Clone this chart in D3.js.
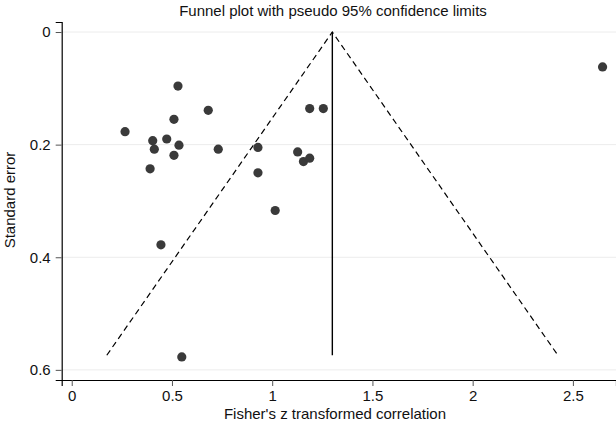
<!DOCTYPE html>
<html>
<head>
<meta charset="utf-8">
<script src="https://cdn.jsdelivr.net/npm/d3@7"></script>
<style>
  html, body { margin: 0; padding: 0; background: #fff; }
  svg { display: block; font-family: "Liberation Sans", Arial, Helvetica, sans-serif; }
</style>
</head>
<body>
<svg id="chart" width="616" height="430"></svg>
<script>
// Data: Fisher's z transformed correlation (effect) and standard error
const effects = [0.530, 0.681, 0.510, 0.266, 0.404, 0.474, 0.535, 0.412, 0.510, 0.391, 0.731,
                 0.929, 0.929, 1.187, 1.255, 1.127, 1.156, 1.187, 0.445, 1.015, 0.549, 2.648];
const stdErrors = [0.096, 0.139, 0.155, 0.177, 0.193, 0.190, 0.201, 0.208, 0.219, 0.243, 0.208,
                   0.205, 0.250, 0.136, 0.136, 0.213, 0.230, 0.224, 0.378, 0.317, 0.577, 0.062];
const pooledEffect = 1.30;
const maxSE = 0.574;
const xTicks = [0, 0.5, 1, 1.5, 2, 2.5];
const yTicks = [0, 0.2, 0.4, 0.6];
const title = "Funnel plot with pseudo 95% confidence limits";
const xTitle = "Fisher's z transformed correlation";
const yTitle = "Standard error";

const svg = d3.select("#chart");
const x = d3.scaleLinear().domain([-0.05, 2.715]).range([61.7, 616]);
const y = d3.scaleLinear().domain([-0.0178, 0.618]).range([22, 380]);

// gridlines
svg.append("g").selectAll("line").data(yTicks).join("line")
  .attr("x1", x(-0.05)).attr("x2", 616)
  .attr("y1", d => y(d)).attr("y2", d => y(d))
  .attr("stroke", "#ececec").attr("stroke-width", 1);

// axes
const yAxis = svg.append("g").attr("transform", `translate(${x(-0.05)},0)`)
  .call(d3.axisLeft(y).tickValues(yTicks).tickFormat(d => d === 0 ? "0" : d3.format(".1f")(d)).tickSizeOuter(0).tickSize(6).tickPadding(5));
const xAxis = svg.append("g").attr("transform", `translate(0,${y(0.618)})`)
  .call(d3.axisBottom(x).tickValues(xTicks).tickFormat(d => d === 0 ? "0" : (Number.isInteger(d) ? d3.format("d")(d) : d3.format(".1f")(d))).tickSizeOuter(0).tickSize(6).tickPadding(4));
[yAxis, xAxis].forEach(a => {
  a.select(".domain").attr("stroke", "#000").attr("stroke-width", 1.2);
  a.selectAll(".tick line").attr("stroke", "#555");
  a.selectAll(".tick text").attr("fill", "#111").style("font-size", "15px").style("font-family", "Liberation Sans, Arial, sans-serif");
});

// funnel lines
const lo = pooledEffect - 1.96 * maxSE, hi = pooledEffect + 1.96 * maxSE;
const dashed = [[[lo, maxSE], [pooledEffect, 0], [hi, maxSE]]];
svg.append("g").selectAll("path").data(dashed).join("path")
  .attr("d", d3.line().x(d => x(d[0])).y(d => y(d[1])))
  .attr("fill", "none").attr("stroke", "#000").attr("stroke-width", 1.2)
  .attr("stroke-dasharray", "6,4");
svg.append("line")
  .attr("x1", x(pooledEffect)).attr("x2", x(pooledEffect))
  .attr("y1", y(0)).attr("y2", y(maxSE))
  .attr("stroke", "#000").attr("stroke-width", 1.4);

// points
svg.append("g").selectAll("circle").data(effects.map((e, i) => [e, stdErrors[i]])).join("circle")
  .attr("cx", d => x(d[0])).attr("cy", d => y(d[1])).attr("r", 4.6)
  .attr("fill", "#3a3a3a");

// titles
svg.append("text").attr("x", 333).attr("y", 16).attr("text-anchor", "middle")
  .style("font-size", "15px").attr("fill", "#111").text(title);
svg.append("text").attr("x", 335).attr("y", 419).attr("text-anchor", "middle")
  .style("font-size", "15px").attr("fill", "#111").text(xTitle);
svg.append("text").attr("transform", "translate(15,200) rotate(-90)").attr("text-anchor", "middle")
  .style("font-size", "15px").attr("fill", "#111").text(yTitle);
</script>
</body>
</html>
